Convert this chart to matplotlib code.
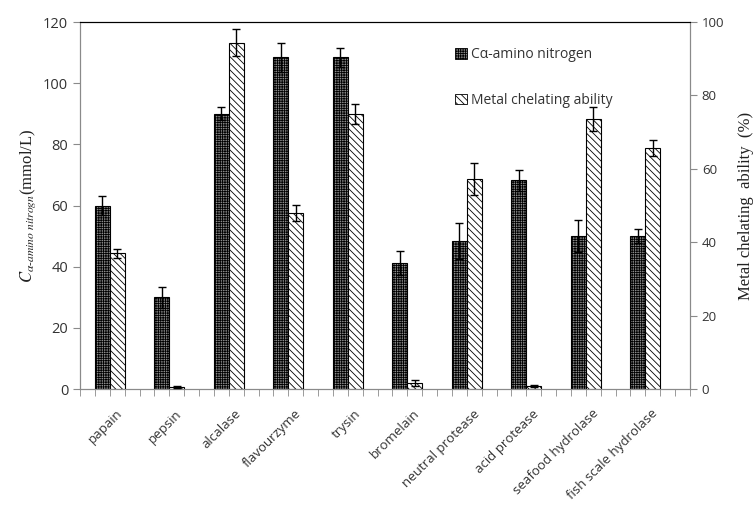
import numpy as np
import matplotlib
matplotlib.use("Agg")
import matplotlib.pyplot as plt
from matplotlib.patches import Patch
from matplotlib.ticker import MultipleLocator

enzymes = ["papain", "pepsin", "alcalase", "flavourzyme", "trysin", "bromelain",
           "neutral protease", "acid protease", "seafood hydrolase", "fish scale hydrolase"]
amino_n = [60, 30, 90, 108.4, 108.4, 41.3, 48.4, 68.3, 50, 50]
amino_n_err = [3.2, 3.4, 2.1, 4.8, 3.0, 3.9, 6.0, 3.4, 5.3, 2.2]
chelating = [37.0, 0.6, 94.4, 47.9, 75.0, 1.7, 57.3, 0.9, 73.6, 65.7]
chelating_err = [1.2, 0.3, 3.6, 2.2, 2.7, 0.8, 4.4, 0.3, 3.2, 2.2]

plt.rcParams["hatch.linewidth"] = 0.6
plt.rcParams["mathtext.fontset"] = "stix"
text_col = "#333333"
axis_col = "#8a8a8a"
dark_fill = "#8c8c8c"
dark_hatch = "+" * 7
light_hatch = "\\" * 5

fig = plt.figure(figsize=(7.55, 5.11), dpi=100)
ax = fig.add_axes([80 / 755, 1 - 389 / 511, 610 / 755, 367 / 511])
ax2 = ax.twinx()

x = np.arange(len(enzymes))
w = 0.25
ax.bar(x - w / 2, amino_n, w, facecolor=dark_fill, edgecolor="black", hatch=dark_hatch,
       linewidth=0.8, zorder=2)
ax.errorbar(x - w / 2, amino_n, yerr=amino_n_err, fmt="none", ecolor="black",
            elinewidth=1, capsize=3, capthick=1, zorder=3)
ax2.bar(x + w / 2, chelating, w, facecolor="white", edgecolor="black", hatch=light_hatch,
        linewidth=0.8, zorder=2)
ax2.errorbar(x + w / 2, chelating, yerr=chelating_err, fmt="none", ecolor="black",
             elinewidth=1, capsize=3, capthick=1, zorder=3)

ax.set_xlim(-0.5, len(enzymes) - 0.5)
ax.set_ylim(0, 120)
ax2.set_ylim(0, 100)
ax.yaxis.set_major_locator(MultipleLocator(20))
ax2.yaxis.set_major_locator(MultipleLocator(20))

# label anchors sit a little right of the group centres (as in the original)
ax.set_xticks(x + 0.1)
ax.set_xticklabels(enzymes, rotation=45, ha="right", rotation_mode="anchor",
                   fontsize=9.5, family="Open Sans", color=text_col)
ax.set_xticks(np.arange(-0.5, len(enzymes), 0.25), minor=True)
ax.tick_params(axis="x", which="both", length=5, color=axis_col, direction="out")
ax.tick_params(axis="x", which="major", length=0, pad=13)
ax.tick_params(axis="y", length=5, color=axis_col, labelcolor=text_col, labelsize=10.5)
ax2.tick_params(axis="y", length=5, color=axis_col, labelcolor=text_col, labelsize=9.5)
for lab in ax.get_yticklabels() + ax2.get_yticklabels():
    lab.set_family("Open Sans")

for a in (ax, ax2):
    a.spines["left"].set_color(axis_col)
    a.spines["bottom"].set_color(axis_col)
    a.spines["right"].set_color(axis_col)
    a.spines["top"].set_color("black")

ax.set_ylabel(r"$C_{\alpha\text{-}amino\ nitrogn}$(mmol/L)", fontsize=12,
              family="Liberation Serif", color="#222222", labelpad=4)
ax2.set_ylabel("Metal chelating  ability  (%)", fontsize=12, family="Liberation Serif",
               color="#222222", labelpad=10)

handles = [Patch(facecolor=dark_fill, edgecolor="black", hatch=dark_hatch, linewidth=0.6),
           Patch(facecolor="white", edgecolor="black", hatch=light_hatch, linewidth=0.6)]
ax.legend(handles, ["C\u03b1-amino nitrogen", "Metal chelating ability"],
          loc="upper left", bbox_to_anchor=(0.595, 0.965), frameon=False,
          handlelength=0.8, handleheight=0.8, handletextpad=0.3, labelspacing=2.2,
          prop={"family": "Open Sans", "size": 10}, labelcolor=text_col)

fig.savefig("out.png", dpi=100)
